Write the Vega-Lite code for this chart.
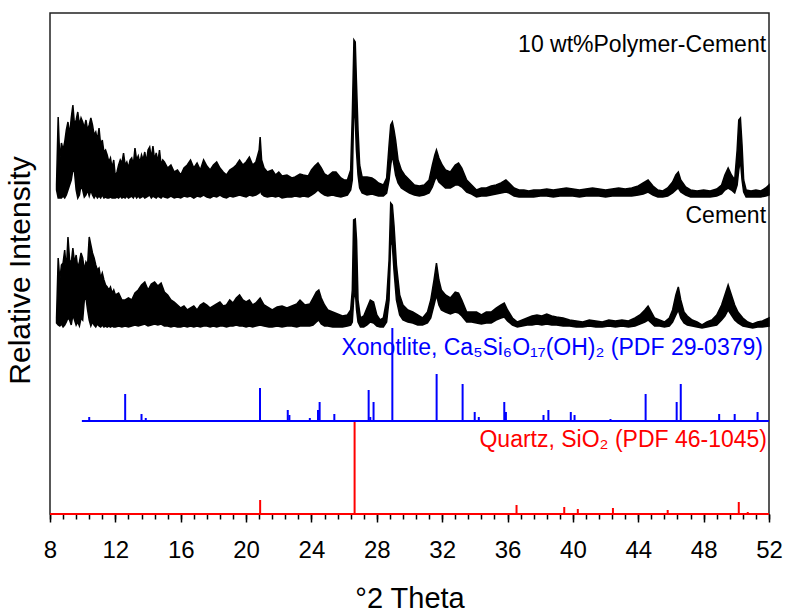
{
  "$schema": "https://vega.github.io/schema/vega-lite/v6.json",
  "autosize": "none",
  "width": 719,
  "height": 501,
  "padding": {"left": 50, "top": 13, "right": 18, "bottom": 100},
  "config": {
    "font": "Liberation Sans",
    "view": {"stroke": "#222222", "strokeWidth": 1.5},
    "axis": {"grid": false, "domain": false, "tickColor": "#000000", "labelColor": "#000000", "titleColor": "#000000", "titleFontWeight": "normal"}
  },
  "datasets": {
    "pc": [
      {"t":8.40,"hi":329,"lo":324},{"t":8.50,"hi":397,"lo":316},{"t":8.60,"hi":354,"lo":316},{"t":8.70,"hi":371,"lo":316},{"t":8.80,"hi":364,"lo":318},{"t":8.90,"hi":372,"lo":316},{"t":9.00,"hi":384,"lo":319},{"t":9.10,"hi":392,"lo":324},{"t":9.20,"hi":379,"lo":329},{"t":9.30,"hi":396,"lo":334},{"t":9.40,"hi":409,"lo":344},{"t":9.50,"hi":389,"lo":342},{"t":9.60,"hi":394,"lo":324},{"t":9.70,"hi":402,"lo":316},{"t":9.80,"hi":389,"lo":319},{"t":9.90,"hi":396,"lo":329},{"t":10.00,"hi":392,"lo":324},{"t":10.10,"hi":386,"lo":317},{"t":10.20,"hi":394,"lo":319},{"t":10.30,"hi":384,"lo":324},{"t":10.40,"hi":389,"lo":318},{"t":10.50,"hi":396,"lo":324},{"t":10.60,"hi":389,"lo":319},{"t":10.70,"hi":379,"lo":316},{"t":10.80,"hi":382,"lo":319},{"t":10.90,"hi":374,"lo":316},{"t":11.00,"hi":386,"lo":318},{"t":11.10,"hi":369,"lo":316},{"t":11.20,"hi":374,"lo":319},{"t":11.30,"hi":362,"lo":316},{"t":11.40,"hi":364,"lo":317},{"t":11.50,"hi":359,"lo":316},{"t":11.60,"hi":352,"lo":316},{"t":11.70,"hi":356,"lo":317},{"t":11.80,"hi":346,"lo":316},{"t":11.90,"hi":354,"lo":316},{"t":12.00,"hi":337,"lo":316},{"t":12.10,"hi":342,"lo":317},{"t":12.20,"hi":349,"lo":316},{"t":12.30,"hi":354,"lo":318},{"t":12.40,"hi":351,"lo":316},{"t":12.50,"hi":361,"lo":317},{"t":12.60,"hi":349,"lo":316},{"t":12.70,"hi":352,"lo":318},{"t":12.80,"hi":346,"lo":316},{"t":12.90,"hi":354,"lo":317},{"t":13.00,"hi":356,"lo":318},{"t":13.10,"hi":349,"lo":316},{"t":13.20,"hi":366,"lo":319},{"t":13.30,"hi":354,"lo":316},{"t":13.40,"hi":358,"lo":318},{"t":13.50,"hi":351,"lo":316},{"t":13.60,"hi":359,"lo":317},{"t":13.70,"hi":354,"lo":318},{"t":13.80,"hi":362,"lo":316},{"t":13.90,"hi":352,"lo":317},{"t":14.00,"hi":364,"lo":318},{"t":14.10,"hi":367,"lo":319},{"t":14.20,"hi":356,"lo":316},{"t":14.30,"hi":368,"lo":318},{"t":14.40,"hi":354,"lo":317},{"t":14.50,"hi":361,"lo":316},{"t":14.60,"hi":352,"lo":318},{"t":14.70,"hi":364,"lo":317},{"t":14.80,"hi":349,"lo":316},{"t":14.90,"hi":354,"lo":318},{"t":15.00,"hi":352,"lo":317},{"t":15.20,"hi":346,"lo":316},{"t":15.40,"hi":349,"lo":318},{"t":15.60,"hi":342,"lo":316},{"t":15.80,"hi":344,"lo":317},{"t":16.00,"hi":339,"lo":316},{"t":16.20,"hi":346,"lo":318},{"t":16.40,"hi":349,"lo":317},{"t":16.60,"hi":354,"lo":318},{"t":16.80,"hi":346,"lo":316},{"t":17.00,"hi":351,"lo":318},{"t":17.20,"hi":344,"lo":317},{"t":17.40,"hi":354,"lo":319},{"t":17.60,"hi":348,"lo":317},{"t":17.80,"hi":344,"lo":316},{"t":18.00,"hi":349,"lo":318},{"t":18.20,"hi":352,"lo":317},{"t":18.40,"hi":346,"lo":319},{"t":18.60,"hi":342,"lo":317},{"t":18.80,"hi":339,"lo":316},{"t":19.00,"hi":344,"lo":318},{"t":19.20,"hi":346,"lo":317},{"t":19.40,"hi":349,"lo":318},{"t":19.60,"hi":354,"lo":319},{"t":19.80,"hi":349,"lo":318},{"t":20.00,"hi":352,"lo":317},{"t":20.20,"hi":357,"lo":319},{"t":20.40,"hi":349,"lo":318},{"t":20.60,"hi":352,"lo":319},{"t":20.80,"hi":364,"lo":321},{"t":20.86,"hi":377,"lo":324},{"t":20.95,"hi":354,"lo":320},{"t":21.10,"hi":346,"lo":318},{"t":21.30,"hi":342,"lo":317},{"t":21.60,"hi":344,"lo":318},{"t":21.80,"hi":339,"lo":317},{"t":22.00,"hi":342,"lo":318},{"t":22.20,"hi":338,"lo":316},{"t":22.50,"hi":339,"lo":317},{"t":22.80,"hi":336,"lo":317},{"t":23.00,"hi":337,"lo":318},{"t":23.30,"hi":340,"lo":317},{"t":23.50,"hi":339,"lo":318},{"t":23.80,"hi":338,"lo":317},{"t":24.00,"hi":344,"lo":319},{"t":24.20,"hi":348,"lo":321},{"t":24.40,"hi":351,"lo":324},{"t":24.60,"hi":346,"lo":321},{"t":24.80,"hi":340,"lo":319},{"t":25.00,"hi":338,"lo":318},{"t":25.30,"hi":342,"lo":319},{"t":25.50,"hi":342,"lo":318},{"t":25.80,"hi":336,"lo":317},{"t":26.00,"hi":334,"lo":318},{"t":26.20,"hi":334,"lo":319},{"t":26.40,"hi":344,"lo":324},{"t":26.50,"hi":399,"lo":334},{"t":26.60,"hi":474,"lo":414},{"t":26.68,"hi":472,"lo":394},{"t":26.75,"hi":434,"lo":364},{"t":26.85,"hi":384,"lo":339},{"t":26.95,"hi":349,"lo":326},{"t":27.10,"hi":337,"lo":321},{"t":27.40,"hi":337,"lo":319},{"t":27.70,"hi":336,"lo":320},{"t":27.90,"hi":334,"lo":319},{"t":28.10,"hi":331,"lo":318},{"t":28.40,"hi":329,"lo":318},{"t":28.60,"hi":336,"lo":321},{"t":28.75,"hi":369,"lo":334},{"t":28.85,"hi":389,"lo":349},{"t":28.95,"hi":392,"lo":359},{"t":29.05,"hi":384,"lo":349},{"t":29.15,"hi":374,"lo":339},{"t":29.30,"hi":354,"lo":331},{"t":29.50,"hi":344,"lo":326},{"t":29.70,"hi":339,"lo":324},{"t":30.00,"hi":334,"lo":321},{"t":30.30,"hi":329,"lo":319},{"t":30.60,"hi":328,"lo":318},{"t":30.90,"hi":329,"lo":319},{"t":31.20,"hi":334,"lo":321},{"t":31.40,"hi":349,"lo":327},{"t":31.55,"hi":359,"lo":334},{"t":31.65,"hi":364,"lo":337},{"t":31.80,"hi":356,"lo":332},{"t":32.00,"hi":349,"lo":329},{"t":32.20,"hi":344,"lo":326},{"t":32.50,"hi":342,"lo":326},{"t":32.80,"hi":349,"lo":329},{"t":33.00,"hi":351,"lo":329},{"t":33.20,"hi":346,"lo":327},{"t":33.50,"hi":334,"lo":322},{"t":33.80,"hi":329,"lo":320},{"t":34.10,"hi":324,"lo":317},{"t":34.40,"hi":326,"lo":318},{"t":34.70,"hi":326,"lo":318},{"t":35.00,"hi":328,"lo":319},{"t":35.30,"hi":329,"lo":320},{"t":35.60,"hi":331,"lo":321},{"t":35.90,"hi":334,"lo":322},{"t":36.10,"hi":331,"lo":321},{"t":36.40,"hi":326,"lo":318},{"t":36.70,"hi":324,"lo":317},{"t":37.00,"hi":324,"lo":317},{"t":37.30,"hi":323,"lo":317},{"t":37.60,"hi":324,"lo":317},{"t":38.00,"hi":324,"lo":318},{"t":38.40,"hi":325,"lo":318},{"t":38.80,"hi":324,"lo":317},{"t":39.20,"hi":325,"lo":318},{"t":39.60,"hi":326,"lo":318},{"t":40.00,"hi":325,"lo":318},{"t":40.40,"hi":324,"lo":317},{"t":40.80,"hi":325,"lo":318},{"t":41.20,"hi":326,"lo":318},{"t":41.60,"hi":325,"lo":318},{"t":42.00,"hi":324,"lo":317},{"t":42.40,"hi":325,"lo":318},{"t":42.80,"hi":326,"lo":318},{"t":43.20,"hi":325,"lo":318},{"t":43.60,"hi":326,"lo":318},{"t":44.00,"hi":328,"lo":319},{"t":44.30,"hi":331,"lo":320},{"t":44.60,"hi":334,"lo":322},{"t":44.90,"hi":328,"lo":319},{"t":45.20,"hi":324,"lo":317},{"t":45.50,"hi":323,"lo":317},{"t":45.80,"hi":326,"lo":318},{"t":46.10,"hi":332,"lo":321},{"t":46.30,"hi":339,"lo":324},{"t":46.45,"hi":342,"lo":326},{"t":46.60,"hi":334,"lo":322},{"t":46.90,"hi":327,"lo":319},{"t":47.20,"hi":324,"lo":317},{"t":47.60,"hi":323,"lo":317},{"t":48.00,"hi":324,"lo":317},{"t":48.40,"hi":323,"lo":317},{"t":48.80,"hi":325,"lo":318},{"t":49.10,"hi":329,"lo":320},{"t":49.30,"hi":339,"lo":324},{"t":49.50,"hi":346,"lo":326},{"t":49.70,"hi":339,"lo":324},{"t":49.90,"hi":334,"lo":321},{"t":50.05,"hi":364,"lo":329},{"t":50.15,"hi":394,"lo":344},{"t":50.25,"hi":396,"lo":354},{"t":50.35,"hi":369,"lo":334},{"t":50.45,"hi":334,"lo":322},{"t":50.60,"hi":324,"lo":317},{"t":50.90,"hi":323,"lo":317},{"t":51.20,"hi":324,"lo":317},{"t":51.50,"hi":323,"lo":317},{"t":51.80,"hi":326,"lo":318},{"t":52.00,"hi":329,"lo":319}
    ],
    "cem": [
      {"t":8.40,"hi":196,"lo":191},{"t":8.50,"hi":256,"lo":189},{"t":8.60,"hi":234,"lo":188},{"t":8.70,"hi":249,"lo":190},{"t":8.80,"hi":251,"lo":187},{"t":8.90,"hi":264,"lo":189},{"t":9.00,"hi":244,"lo":192},{"t":9.10,"hi":277,"lo":196},{"t":9.20,"hi":254,"lo":194},{"t":9.30,"hi":251,"lo":189},{"t":9.40,"hi":266,"lo":199},{"t":9.50,"hi":251,"lo":194},{"t":9.60,"hi":259,"lo":189},{"t":9.70,"hi":246,"lo":192},{"t":9.80,"hi":252,"lo":188},{"t":9.90,"hi":261,"lo":196},{"t":10.00,"hi":256,"lo":194},{"t":10.10,"hi":244,"lo":214},{"t":10.20,"hi":252,"lo":216},{"t":10.30,"hi":249,"lo":204},{"t":10.40,"hi":277,"lo":194},{"t":10.50,"hi":269,"lo":188},{"t":10.60,"hi":261,"lo":192},{"t":10.70,"hi":256,"lo":189},{"t":10.80,"hi":249,"lo":187},{"t":10.90,"hi":244,"lo":190},{"t":11.00,"hi":246,"lo":188},{"t":11.10,"hi":236,"lo":187},{"t":11.20,"hi":241,"lo":189},{"t":11.30,"hi":234,"lo":187},{"t":11.40,"hi":229,"lo":188},{"t":11.50,"hi":227,"lo":187},{"t":11.60,"hi":224,"lo":188},{"t":11.70,"hi":227,"lo":187},{"t":11.80,"hi":221,"lo":188},{"t":11.90,"hi":224,"lo":187},{"t":12.00,"hi":219,"lo":187},{"t":12.20,"hi":221,"lo":188},{"t":12.40,"hi":214,"lo":187},{"t":12.60,"hi":214,"lo":188},{"t":12.80,"hi":216,"lo":187},{"t":13.00,"hi":214,"lo":188},{"t":13.20,"hi":221,"lo":189},{"t":13.40,"hi":224,"lo":188},{"t":13.60,"hi":229,"lo":189},{"t":13.80,"hi":232,"lo":190},{"t":14.00,"hi":224,"lo":188},{"t":14.20,"hi":230,"lo":189},{"t":14.40,"hi":232,"lo":190},{"t":14.60,"hi":228,"lo":189},{"t":14.80,"hi":231,"lo":190},{"t":15.00,"hi":222,"lo":188},{"t":15.20,"hi":219,"lo":188},{"t":15.40,"hi":214,"lo":187},{"t":15.60,"hi":212,"lo":188},{"t":15.80,"hi":209,"lo":187},{"t":16.00,"hi":206,"lo":187},{"t":16.20,"hi":208,"lo":188},{"t":16.40,"hi":204,"lo":187},{"t":16.60,"hi":206,"lo":188},{"t":16.80,"hi":208,"lo":187},{"t":17.00,"hi":204,"lo":188},{"t":17.20,"hi":209,"lo":187},{"t":17.40,"hi":211,"lo":188},{"t":17.60,"hi":209,"lo":188},{"t":17.80,"hi":206,"lo":187},{"t":18.00,"hi":208,"lo":188},{"t":18.20,"hi":210,"lo":187},{"t":18.40,"hi":212,"lo":188},{"t":18.60,"hi":208,"lo":188},{"t":18.80,"hi":209,"lo":187},{"t":19.00,"hi":214,"lo":188},{"t":19.20,"hi":211,"lo":188},{"t":19.40,"hi":216,"lo":189},{"t":19.60,"hi":219,"lo":188},{"t":19.80,"hi":214,"lo":188},{"t":20.00,"hi":212,"lo":187},{"t":20.20,"hi":214,"lo":188},{"t":20.40,"hi":209,"lo":187},{"t":20.60,"hi":211,"lo":188},{"t":20.86,"hi":216,"lo":189},{"t":21.10,"hi":209,"lo":188},{"t":21.40,"hi":206,"lo":187},{"t":21.60,"hi":204,"lo":187},{"t":21.90,"hi":207,"lo":188},{"t":22.20,"hi":208,"lo":187},{"t":22.50,"hi":206,"lo":188},{"t":22.80,"hi":208,"lo":188},{"t":23.10,"hi":210,"lo":187},{"t":23.30,"hi":214,"lo":188},{"t":23.60,"hi":209,"lo":188},{"t":23.90,"hi":210,"lo":188},{"t":24.10,"hi":216,"lo":189},{"t":24.30,"hi":222,"lo":192},{"t":24.45,"hi":224,"lo":194},{"t":24.60,"hi":216,"lo":190},{"t":24.80,"hi":209,"lo":188},{"t":25.00,"hi":204,"lo":188},{"t":25.30,"hi":202,"lo":187},{"t":25.60,"hi":200,"lo":187},{"t":25.90,"hi":198,"lo":187},{"t":26.20,"hi":199,"lo":188},{"t":26.40,"hi":204,"lo":189},{"t":26.50,"hi":224,"lo":192},{"t":26.58,"hi":294,"lo":214},{"t":26.68,"hi":295,"lo":224},{"t":26.76,"hi":274,"lo":204},{"t":26.85,"hi":214,"lo":192},{"t":27.00,"hi":196,"lo":187},{"t":27.20,"hi":198,"lo":187},{"t":27.40,"hi":206,"lo":189},{"t":27.60,"hi":214,"lo":192},{"t":27.80,"hi":212,"lo":191},{"t":28.00,"hi":199,"lo":188},{"t":28.20,"hi":194,"lo":187},{"t":28.40,"hi":196,"lo":187},{"t":28.60,"hi":214,"lo":192},{"t":28.75,"hi":254,"lo":214},{"t":28.85,"hi":311,"lo":274},{"t":28.95,"hi":309,"lo":269},{"t":29.05,"hi":289,"lo":244},{"t":29.20,"hi":249,"lo":214},{"t":29.40,"hi":219,"lo":199},{"t":29.60,"hi":209,"lo":194},{"t":29.90,"hi":204,"lo":192},{"t":30.20,"hi":202,"lo":191},{"t":30.50,"hi":199,"lo":189},{"t":30.80,"hi":196,"lo":189},{"t":31.10,"hi":202,"lo":191},{"t":31.30,"hi":214,"lo":196},{"t":31.50,"hi":234,"lo":209},{"t":31.65,"hi":251,"lo":219},{"t":31.80,"hi":234,"lo":209},{"t":31.95,"hi":224,"lo":204},{"t":32.20,"hi":219,"lo":202},{"t":32.50,"hi":216,"lo":200},{"t":32.80,"hi":222,"lo":202},{"t":33.00,"hi":221,"lo":201},{"t":33.20,"hi":214,"lo":198},{"t":33.50,"hi":202,"lo":192},{"t":33.80,"hi":202,"lo":192},{"t":34.10,"hi":202,"lo":191},{"t":34.40,"hi":199,"lo":190},{"t":34.70,"hi":202,"lo":191},{"t":35.00,"hi":202,"lo":191},{"t":35.30,"hi":206,"lo":194},{"t":35.60,"hi":209,"lo":196},{"t":35.80,"hi":211,"lo":197},{"t":36.00,"hi":204,"lo":193},{"t":36.30,"hi":196,"lo":189},{"t":36.60,"hi":192,"lo":187},{"t":36.90,"hi":194,"lo":188},{"t":37.20,"hi":196,"lo":189},{"t":37.50,"hi":198,"lo":189},{"t":37.80,"hi":199,"lo":190},{"t":38.10,"hi":198,"lo":189},{"t":38.40,"hi":200,"lo":190},{"t":38.70,"hi":198,"lo":189},{"t":39.00,"hi":197,"lo":189},{"t":39.40,"hi":196,"lo":188},{"t":39.80,"hi":194,"lo":188},{"t":40.20,"hi":193,"lo":187},{"t":40.60,"hi":192,"lo":187},{"t":41.00,"hi":194,"lo":188},{"t":41.40,"hi":193,"lo":187},{"t":41.80,"hi":192,"lo":187},{"t":42.20,"hi":194,"lo":188},{"t":42.60,"hi":193,"lo":187},{"t":43.00,"hi":194,"lo":188},{"t":43.40,"hi":193,"lo":187},{"t":43.80,"hi":196,"lo":188},{"t":44.10,"hi":199,"lo":190},{"t":44.40,"hi":204,"lo":192},{"t":44.60,"hi":208,"lo":194},{"t":44.80,"hi":202,"lo":191},{"t":45.00,"hi":196,"lo":188},{"t":45.30,"hi":194,"lo":188},{"t":45.60,"hi":192,"lo":187},{"t":45.90,"hi":196,"lo":188},{"t":46.10,"hi":204,"lo":192},{"t":46.30,"hi":219,"lo":199},{"t":46.45,"hi":227,"lo":204},{"t":46.60,"hi":214,"lo":196},{"t":46.80,"hi":202,"lo":191},{"t":47.00,"hi":198,"lo":189},{"t":47.30,"hi":194,"lo":188},{"t":47.60,"hi":192,"lo":187},{"t":47.90,"hi":189,"lo":186},{"t":48.20,"hi":192,"lo":187},{"t":48.50,"hi":194,"lo":188},{"t":48.80,"hi":199,"lo":189},{"t":49.10,"hi":209,"lo":194},{"t":49.30,"hi":219,"lo":198},{"t":49.50,"hi":229,"lo":204},{"t":49.70,"hi":219,"lo":199},{"t":49.90,"hi":209,"lo":194},{"t":50.10,"hi":202,"lo":191},{"t":50.40,"hi":196,"lo":188},{"t":50.70,"hi":192,"lo":187},{"t":51.00,"hi":190,"lo":186},{"t":51.30,"hi":192,"lo":187},{"t":51.60,"hi":193,"lo":187},{"t":52.00,"hi":196,"lo":188}
    ],
    "xono": [
      {"t":10.4,"lo":93,"hi":97},{"t":12.6,"lo":93,"hi":120},{"t":13.6,"lo":93,"hi":100},{"t":13.86,"lo":93,"hi":96},{"t":20.85,"lo":93,"hi":126},{"t":22.55,"lo":93,"hi":104},{"t":22.65,"lo":93,"hi":99},{"t":23.9,"lo":93,"hi":96},{"t":24.4,"lo":93,"hi":104},{"t":24.5,"lo":93,"hi":112},{"t":25.4,"lo":93,"hi":100},{"t":27.5,"lo":93,"hi":124},{"t":27.6,"lo":93,"hi":97},{"t":27.8,"lo":93,"hi":112},{"t":28.95,"lo":93,"hi":186},{"t":31.66,"lo":93,"hi":140},{"t":33.25,"lo":93,"hi":130},{"t":33.99,"lo":93,"hi":102},{"t":34.24,"lo":93,"hi":97},{"t":35.8,"lo":93,"hi":112},{"t":35.9,"lo":93,"hi":102},{"t":38.2,"lo":93,"hi":99},{"t":38.5,"lo":93,"hi":104},{"t":39.87,"lo":93,"hi":102},{"t":40.1,"lo":93,"hi":99},{"t":42.3,"lo":93,"hi":95},{"t":44.45,"lo":93,"hi":120},{"t":46.35,"lo":93,"hi":112},{"t":46.6,"lo":93,"hi":130},{"t":48.95,"lo":93,"hi":100},{"t":49.9,"lo":93,"hi":100},{"t":51.3,"lo":93,"hi":102}
    ],
    "quartz": [
      {"t":20.86,"lo":0,"hi":14},{"t":26.64,"lo":0,"hi":92},{"t":36.55,"lo":0,"hi":9},{"t":39.47,"lo":0,"hi":7},{"t":40.3,"lo":0,"hi":5},{"t":42.45,"lo":0,"hi":6},{"t":45.8,"lo":0,"hi":4},{"t":50.15,"lo":0,"hi":12},{"t":50.7,"lo":0,"hi":2}
    ],
    "bases": [
      {"t0":9.95,"t1":52,"v":93,"ref":"Xonotlite"},
      {"t0":8,"t1":52,"v":0,"ref":"Quartz"}
    ],
    "labels": [
      {"t":51.82,"v":469,"label":"10 wt%Polymer-Cement","ref":"Sample"},
      {"t":51.82,"v":298,"label":"Cement","ref":"Sample"},
      {"t":51.63,"v":166,"label":"Xonotlite, Ca₅Si₆O₁₇(OH)₂ (PDF 29-0379)","ref":"Xonotlite"},
      {"t":51.88,"v":74,"label":"Quartz, SiO₂ (PDF 46-1045)","ref":"Quartz"}
    ]
  },
  "resolve": {"axis": {"x": "independent"}},
  "layer": [
    {
      "data": {"name": "pc"},
      "mark": {"type": "area", "fill": "#000000", "stroke": "#000000", "strokeWidth": 1.5},
      "encoding": {
        "x": {"field": "t", "type": "quantitative", "scale": {"domain": [8, 52], "nice": false, "zero": false},
          "axis": {"orient": "bottom", "values": [8,12,16,20,24,28,32,36,40,44,48,52], "tickSize": 8, "tickWidth": 1.5, "labelFontSize": 24, "labelPadding": 16, "labelFlush": false, "title": "°2 Theta", "titleFontSize": 29, "titleY": 93, "titleBaseline": "alphabetic"}},
        "y": {"field": "hi", "type": "quantitative", "scale": {"domain": [0, 501], "nice": false, "zero": false},
          "axis": {"ticks": false, "labels": false, "domain": false, "title": "Relative Intensity", "titleFontSize": 30, "titleAngle": -90, "titleX": -15, "titleY": 257, "titleAlign": "center", "titleBaseline": "bottom"}},
        "y2": {"field": "lo"}
      }
    },
    {
      "data": {"name": "cem"},
      "mark": {"type": "area", "fill": "#000000", "stroke": "#000000", "strokeWidth": 1.5},
      "encoding": {
        "x": {"field": "t", "type": "quantitative", "axis": null},
        "y": {"field": "hi", "type": "quantitative"},
        "y2": {"field": "lo"}
      }
    },
    {
      "data": {"name": "bases"},
      "mark": {"type": "rule", "strokeWidth": 2},
      "encoding": {
        "x": {"field": "t0", "type": "quantitative", "axis": null},
        "x2": {"field": "t1"},
        "y": {"field": "v", "type": "quantitative"},
        "color": {"field": "ref", "type": "nominal", "scale": {"domain": ["Xonotlite", "Quartz", "Sample"], "range": ["#0000ff", "#ff0000", "#000000"]}, "legend": null}
      }
    },
    {
      "data": {"name": "xono"},
      "mark": {"type": "rule", "strokeWidth": 2, "color": "#0000ff"},
      "encoding": {
        "x": {"field": "t", "type": "quantitative", "axis": null},
        "y": {"field": "lo", "type": "quantitative"},
        "y2": {"field": "hi"}
      }
    },
    {
      "data": {"name": "quartz"},
      "mark": {"type": "rule", "strokeWidth": 2, "color": "#ff0000"},
      "encoding": {
        "x": {"field": "t", "type": "quantitative",
          "axis": {"orient": "bottom", "values": [8,8.8,9.6,10.4,11.2,12,12.8,13.6,14.4,15.2,16,16.8,17.6,18.4,19.2,20,20.8,21.6,22.4,23.2,24,24.8,25.6,26.4,27.2,28,28.8,29.6,30.4,31.2,32,32.8,33.6,34.4,35.2,36,36.8,37.6,38.4,39.2,40,40.8,41.6,42.4,43.2,44,44.8,45.6,46.4,47.2,48,48.8,49.6,50.4,51.2,52], "tickSize": 5, "tickWidth": 1.5, "labels": false, "domain": false, "title": null}},
        "y": {"field": "lo", "type": "quantitative"},
        "y2": {"field": "hi"}
      }
    },
    {
      "data": {"name": "labels"},
      "mark": {"type": "text", "align": "right", "baseline": "middle", "fontSize": 23},
      "encoding": {
        "x": {"field": "t", "type": "quantitative", "axis": null},
        "y": {"field": "v", "type": "quantitative"},
        "text": {"field": "label"},
        "color": {"field": "ref", "type": "nominal", "scale": {"domain": ["Xonotlite", "Quartz", "Sample"], "range": ["#0000ff", "#ff0000", "#000000"]}, "legend": null}
      }
    }
  ]
}
